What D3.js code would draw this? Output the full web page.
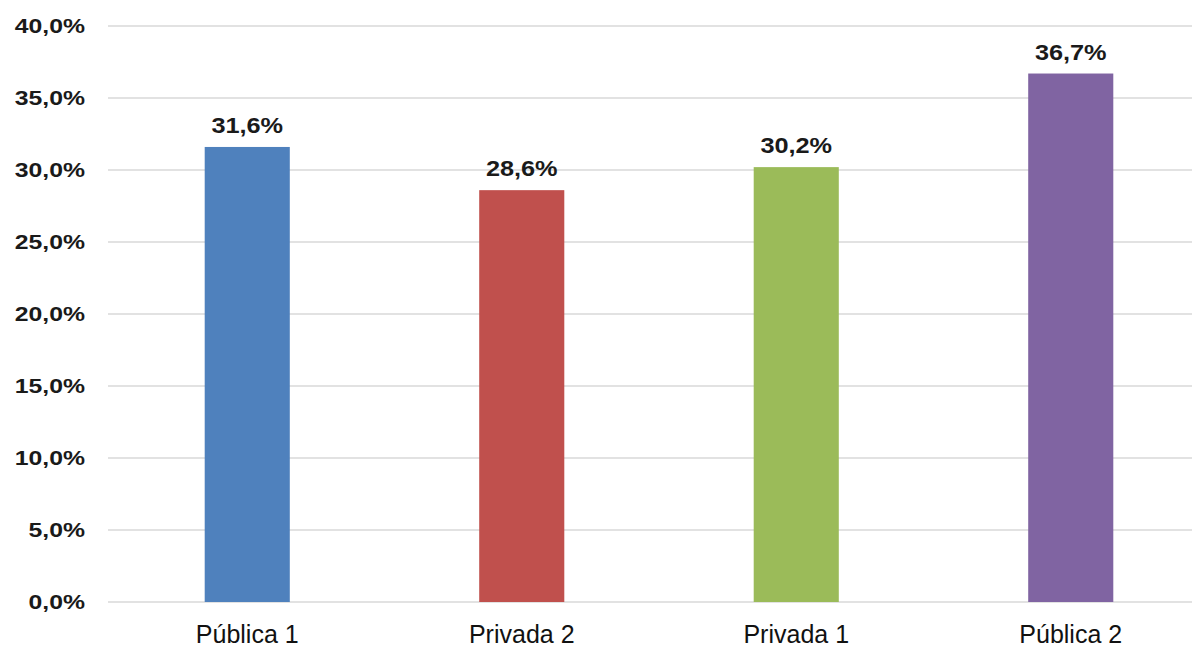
<!DOCTYPE html>
<html>
<head>
<meta charset="utf-8">
<script src="https://cdn.jsdelivr.net/npm/d3@7"></script>
<style>
  html, body { margin: 0; padding: 0; background: #fff; }
  svg { display: block; }
</style>
</head>
<body>
<svg id="chart" width="1192" height="647"></svg>
<script>
const categories = ["Pública 1", "Privada 2", "Privada 1", "Pública 2"];
const values = [31.6, 28.6, 30.2, 36.7];
const valueLabels = ["31,6%", "28,6%", "30,2%", "36,7%"];
const colors = ["#4f81bd", "#c0504d", "#9bbb59", "#8064a2"];
const tickValues = [0, 5, 10, 15, 20, 25, 30, 35, 40];
const tickLabels = ["0,0%", "5,0%", "10,0%", "15,0%", "20,0%", "25,0%", "30,0%", "35,0%", "40,0%"];

const svg = d3.select("#chart");
const W = 1192;

const x = d3.scaleBand()
  .domain(categories)
  .range([110, 1208])
  .paddingInner(0.69)
  .paddingOuter(0.345);

const y = d3.scaleLinear().domain([0, 40]).range([602, 26]);

// gridlines
svg.append("g").selectAll("line")
  .data(tickValues)
  .join("line")
  .attr("x1", 108).attr("x2", W)
  .attr("y1", d => y(d)).attr("y2", d => y(d))
  .attr("stroke", "#d9d9d9")
  .attr("stroke-width", 1.3);

// y tick labels
svg.append("g").selectAll("text")
  .data(tickValues)
  .join("text")
  .attr("transform", d => `translate(85,${y(d)}) scale(1.18,1)`)
  .attr("text-anchor", "end")
  .attr("dominant-baseline", "central")
  .attr("font-family", "'Liberation Sans', Arial, sans-serif")
  .attr("font-weight", "bold")
  .attr("font-size", 21)
  .attr("fill", "#1a1a1a")
  .text((d, i) => tickLabels[i]);

// bars
svg.append("g").selectAll("rect")
  .data(values)
  .join("rect")
  .attr("x", (d, i) => x(categories[i]))
  .attr("width", x.bandwidth())
  .attr("y", d => y(d))
  .attr("height", d => y(0) - y(d))
  .attr("fill", (d, i) => colors[i]);

// value labels
svg.append("g").selectAll("text")
  .data(values)
  .join("text")
  .attr("transform", (d, i) => `translate(${x(categories[i]) + x.bandwidth() / 2},${y(d) - 14}) scale(1.15,1)`)
  .attr("text-anchor", "middle")
  .attr("font-family", "'Liberation Sans', Arial, sans-serif")
  .attr("font-weight", "bold")
  .attr("font-size", 22)
  .attr("fill", "#1a1a1a")
  .text((d, i) => valueLabels[i]);

// category labels
svg.append("g").selectAll("text")
  .data(categories)
  .join("text")
  .attr("x", d => x(d) + x.bandwidth() / 2)
  .attr("y", 643)
  .attr("text-anchor", "middle")
  .attr("font-family", "'Liberation Sans', Arial, sans-serif")
  .attr("font-size", 25)
  .attr("fill", "#111")
  .text(d => d);
</script>
</body>
</html>
